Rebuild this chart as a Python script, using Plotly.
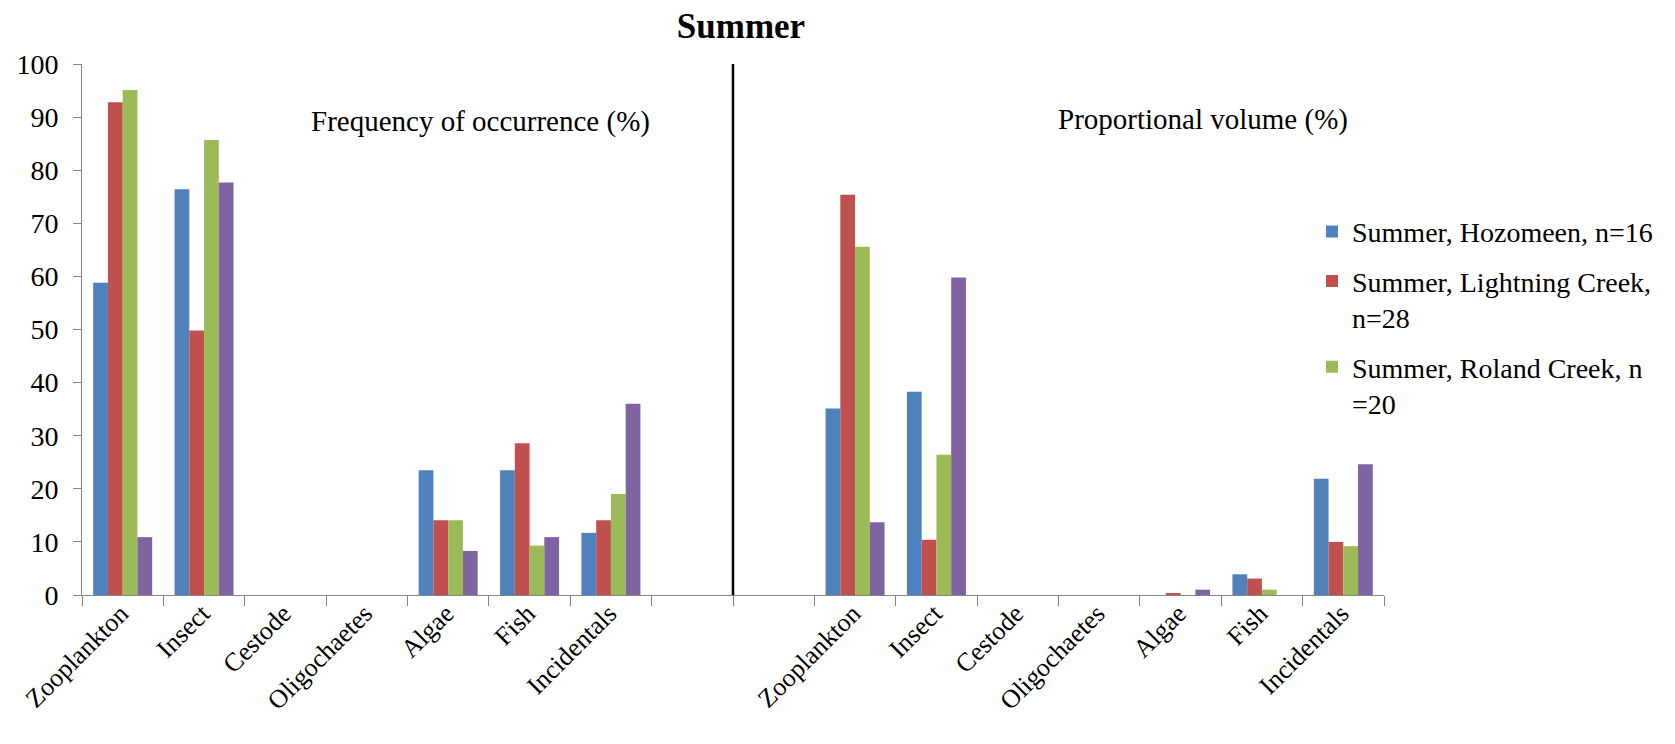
import plotly.graph_objects as go

# ---- data ----
categories = ["Zooplankton", "Insect", "Cestode", "Oligochaetes", "Algae", "Fish", "Incidentals"]
gap_labels = ["", ""]

series_names = [
    "Summer, Hozomeen, n=16",
    "Summer, Lightning Creek,<br>n=28",
    "Summer, Roland Creek, n<br>=20",
    "Summer, other",
]
series_colors = ["#4F81BD", "#C0504D", "#9BBB59", "#8064A2"]
series_in_legend = [True, True, True, False]

# Frequency of occurrence (%)
freq_hozomeen = [58.8, 76.4, 0, 0, 23.5, 23.5, 11.7]
freq_lightning = [92.8, 49.8, 0, 0, 14.1, 28.6, 14.1]
freq_roland = [95.1, 85.7, 0, 0, 14.1, 9.3, 19.0]
freq_fourth = [10.9, 77.7, 0, 0, 8.3, 10.9, 36.0]

# Proportional volume (%)
vol_hozomeen = [35.1, 38.3, 0, 0, 0, 3.9, 21.9]
vol_lightning = [75.4, 10.4, 0, 0, 0.3, 3.1, 10.0]
vol_roland = [65.6, 26.4, 0, 0, 0, 1.0, 9.2]
vol_fourth = [13.7, 59.8, 0, 0, 1.0, 0, 24.6]

panel_labels = ["Frequency of occurrence (%)", "Proportional volume (%)"]
title_text = "Summer"
y_ticks = [0, 10, 20, 30, 40, 50, 60, 70, 80, 90, 100]

# ---- build ----
tick_labels = categories + gap_labels + categories
xpos = list(range(len(tick_labels)))
freq_all = [freq_hozomeen, freq_lightning, freq_roland, freq_fourth]
vol_all = [vol_hozomeen, vol_lightning, vol_roland, vol_fourth]

FONT = "Liberation Serif, Times New Roman, serif"
AXIS_COLOR = "#868686"

fig = go.Figure()
for i, name in enumerate(series_names):
    yvals = freq_all[i] + [None] * len(gap_labels) + vol_all[i]
    fig.add_trace(go.Bar(
        x=xpos, y=yvals, name=name,
        marker=dict(color=series_colors[i], line=dict(width=0)),
        showlegend=series_in_legend[i],
        legendgroup=f"g{i}",
    ))

divider_x = len(categories) + 0.5
fig.add_shape(type="line", xref="x", yref="y",
              x0=divider_x, x1=divider_x, y0=y_ticks[0], y1=y_ticks[-1],
              line=dict(color="black", width=2.5))

fig.add_annotation(text=panel_labels[0], xref="paper", yref="paper",
                   x=0.306, y=0.891, xanchor="center", yanchor="middle",
                   showarrow=False,
                   font=dict(family=FONT, size=29, color="black"))
fig.add_annotation(text=panel_labels[1], xref="paper", yref="paper",
                   x=0.861, y=0.895, xanchor="center", yanchor="middle",
                   showarrow=False,
                   font=dict(family=FONT, size=29, color="black"))

fig.update_layout(
    width=1675, height=744,
    margin=dict(l=74, r=299, t=56, b=157, autoexpand=False),
    paper_bgcolor="white", plot_bgcolor="white",
    barmode="group", bargap=0.275, bargroupgap=0,
    font=dict(family=FONT, size=28, color="black"),
    title=dict(text="<b>" + title_text + "</b>", xref="container", x=0.4376,
               xanchor="center", yref="container", y=0.993, yanchor="top",
               pad=dict(t=0, b=0, l=0, r=0),
               font=dict(family=FONT, size=35, color="black")),
    legend=dict(x=0.9447, xanchor="left", y=0.731, yanchor="top",
                font=dict(family=FONT, size=28, color="black"),
                tracegroupgap=10, valign="top", bgcolor="rgba(0,0,0,0)",
                traceorder="grouped"),
    xaxis=dict(
        range=[-0.5, len(tick_labels) - 0.5], automargin=False,
        tickmode="array", tickvals=xpos, ticktext=tick_labels,
        tickangle=-45, ticks="", showgrid=False, zeroline=False,
        showline=True, linecolor=AXIS_COLOR, linewidth=1,
        tickfont=dict(family=FONT, size=26, color="black"),
        ticklabelshift=-2, ticklabelstandoff=-8,
        minor=dict(tickmode="linear", tick0=-0.5, dtick=1, ticks="outside",
                   ticklen=10, tickcolor=AXIS_COLOR, tickwidth=1, showgrid=False),
    ),
    yaxis=dict(
        range=[y_ticks[0], y_ticks[-1]], automargin=False,
        tickmode="array", tickvals=y_ticks,
        ticks="outside", ticklen=8, tickcolor=AXIS_COLOR, tickwidth=1,
        showgrid=False, zeroline=False,
        showline=True, linecolor=AXIS_COLOR, linewidth=1,
        tickfont=dict(family=FONT, size=28, color="black"),
        ticklabelstandoff=9,
    ),
)

fig.write_html("out.html")
